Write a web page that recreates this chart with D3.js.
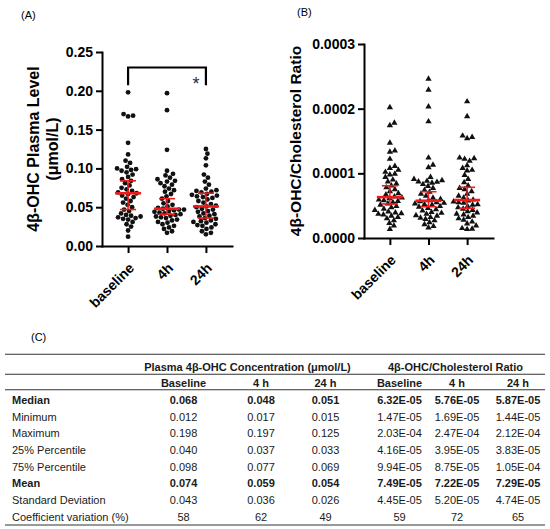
<!DOCTYPE html>
<html>
<head>
<meta charset="utf-8">
<script src="https://cdn.jsdelivr.net/npm/d3@7"></script>
<style>
    body { margin: 0; background: #fff; }
    svg { display: block; font-family: "Liberation Sans", Arial, sans-serif; }
</style>
</head>
<body>
<div id="fig"></div>
<script>

//categories
const groups = ['baseline', '4h', '24h'];

//panel A - plasma level (µmol/L), one array per time point
const plasmaBaseline = [0.012, 0.020, 0.025, 0.028, 0.031, 0.034, 0.035, 0.036, 0.037, 0.038, 0.039, 0.040,
    0.042, 0.045, 0.047, 0.050, 0.053, 0.056, 0.058, 0.061, 0.063, 0.065, 0.067, 0.068,
    0.069, 0.071, 0.073, 0.075, 0.078, 0.081, 0.084, 0.086, 0.089, 0.092, 0.095, 0.097,
    0.098, 0.099, 0.100, 0.102, 0.107, 0.110, 0.118, 0.133, 0.167, 0.168, 0.170, 0.198];
const plasma4h = [0.017, 0.019, 0.022, 0.024, 0.026, 0.028, 0.030, 0.031, 0.033, 0.034, 0.036, 0.037,
    0.038, 0.039, 0.040, 0.041, 0.042, 0.043, 0.044, 0.045, 0.046, 0.047, 0.047, 0.048,
    0.049, 0.051, 0.053, 0.055, 0.058, 0.061, 0.064, 0.067, 0.070, 0.072, 0.074, 0.077,
    0.079, 0.081, 0.083, 0.084, 0.086, 0.088, 0.091, 0.093, 0.097, 0.124, 0.175, 0.197];
const plasma24h = [0.015, 0.017, 0.019, 0.022, 0.024, 0.026, 0.027, 0.028, 0.030, 0.031, 0.032, 0.033,
    0.035, 0.036, 0.038, 0.039, 0.041, 0.042, 0.044, 0.045, 0.047, 0.048, 0.050, 0.051,
    0.052, 0.054, 0.056, 0.058, 0.060, 0.062, 0.063, 0.064, 0.065, 0.066, 0.067, 0.069,
    0.070, 0.071, 0.072, 0.074, 0.079, 0.083, 0.088, 0.092, 0.104, 0.113, 0.119, 0.125];
const plasmaMedian = [0.068, 0.048, 0.051];
const plasmaCILow = [0.047, 0.041, 0.036];
const plasmaCIHigh = [0.084, 0.061, 0.068];
const plasmaTicks = [0, 0.05, 0.10, 0.15, 0.20, 0.25];

//panel B - ratio, values given in units of 1E-05
const RATIO_UNIT = 1e-5;
const ratioBaseline = [1.47, 2.0, 2.4, 2.8, 3.1, 3.3, 3.5, 3.7, 3.8, 3.9, 4.0, 4.16,
    4.4, 4.6, 4.8, 5.0, 5.2, 5.4, 5.6, 5.8, 5.9, 6.0, 6.2, 6.32,
    6.5, 6.8, 7.0, 7.3, 7.6, 7.9, 8.2, 8.5, 8.8, 9.1, 9.5, 9.9,
    10.0, 10.3, 10.6, 10.9, 11.2, 12.3, 13.4, 13.6, 14.8, 17.5, 17.9, 20.3];
const ratio4h = [1.69, 1.9, 2.2, 2.5, 2.8, 3.0, 3.2, 3.3, 3.5, 3.6, 3.8, 3.95,
    4.1, 4.3, 4.5, 4.7, 4.9, 5.0, 5.2, 5.3, 5.4, 5.5, 5.6, 5.76,
    5.9, 6.1, 6.3, 6.6, 6.9, 7.2, 7.5, 7.8, 8.1, 8.4, 8.6, 8.75,
    8.8, 8.9, 9.0, 9.2, 9.5, 11.0, 11.4, 12.5, 18.1, 20.4, 23.0, 24.7];
const ratio24h = [1.44, 1.5, 1.6, 2.0, 2.3, 2.6, 2.9, 3.1, 3.3, 3.5, 3.7, 3.83,
    4.0, 4.2, 4.4, 4.6, 4.8, 5.0, 5.2, 5.3, 5.5, 5.6, 5.7, 5.87,
    6.0, 6.3, 6.6, 6.9, 7.3, 7.6, 7.8, 8.2, 8.7, 9.2, 9.8, 10.5,
    10.6, 10.9, 11.3, 12.0, 12.3, 12.4, 12.5, 15.5, 15.7, 15.9, 18.9, 21.2];
const ratioMedian = [6.32, 5.76, 5.87];
const ratioCILow = [5.26, 4.84, 4.60];
const ratioCIHigh = [8.08, 7.16, 7.84];
const ratioTicks = [0, 0.0001, 0.0002, 0.0003];

//significance bracket (baseline vs 24h)
const sigPair = ['baseline', '24h'];
const sigLabel = '*';

//panel C - table
const tableRows = ['Median', 'Minimum', 'Maximum', '25% Percentile', '75% Percentile', 'Mean', 'Standard Deviation', 'Coefficient variation (%)'];
const boldRows = ['Median', 'Mean'];
const plasmaHeader = 'Plasma 4β-OHC Concentration (μmol/L)';
const ratioHeader = '4β-OHC/Cholesterol Ratio';
const timeHeaders = ['Baseline', '4 h', '24 h'];
const plasmaStats = [
    ['0.068', '0.048', '0.051'],
    ['0.012', '0.017', '0.015'],
    ['0.198', '0.197', '0.125'],
    ['0.040', '0.037', '0.033'],
    ['0.098', '0.077', '0.069'],
    ['0.074', '0.059', '0.054'],
    ['0.043', '0.036', '0.026'],
    ['58', '62', '49']
];
const ratioStats = [
    ['6.32E-05', '5.76E-05', '5.87E-05'],
    ['1.47E-05', '1.69E-05', '1.44E-05'],
    ['2.03E-04', '2.47E-04', '2.12E-04'],
    ['4.16E-05', '3.95E-05', '3.83E-05'],
    ['9.94E-05', '8.75E-05', '1.05E-04'],
    ['7.49E-05', '7.22E-05', '7.29E-05'],
    ['4.45E-05', '5.20E-05', '4.74E-05'],
    ['59', '72', '65']
];


const svg = d3.select('#fig').append('svg')
    .attr('width', 550)
    .attr('height', 529);

svg.append('rect').attr('width', 550).attr('height', 529).attr('fill', '#fff');

//simple beeswarm: push each dot sideways until it doesn't hit the ones placed before
function swarm(values, yScale, cx, diam) {
    let pts = values.map(v => ({ v: v, y: yScale(v) })).sort((a, b) => b.y - a.y);
    let placed = [];
    pts.forEach(p => {
        for (let k = 0; k < 400; k++) {
            let off = (k % 2 ? 1 : -1) * Math.ceil(k / 2) * 0.5;
            let x = cx + off;
            if (placed.every(q => (q.x - x) ** 2 + (q.y - p.y) ** 2 >= diam * diam)) {
                p.x = x;
                break;
            }
        }
        placed.push(p);
    });
    return pts;
}

function drawDotPlot(opts) {
    //dimensions
    let dim = opts.dim;

    let g = svg.append('g');

    //create scales
    let yScale = d3.scaleLinear()
        .domain(opts.yDomain)
        .range([dim.bottom, dim.top]);

    let xScale = d3.scalePoint()
        .domain(groups)
        .range([dim.left, dim.right])
        .padding(0.67);

    //dots
    opts.series.forEach((vals, i) => {
        let pts = swarm(vals.map(opts.acc), yScale, xScale(groups[i]), opts.diam);
        if (opts.shape === 'circle') {
            g.append('g').selectAll('circle')
                .data(pts)
                .join('circle')
                .attr('cx', d => d.x)
                .attr('cy', d => d.y)
                .attr('r', opts.diam / 2)
                .attr('fill', '#111');
        } else {
            g.append('g').selectAll('path')
                .data(pts)
                .join('path')
                .attr('d', d3.symbol(d3.symbolTriangle, 17))
                .attr('transform', d => `translate(${d.x},${d.y + 0.6})`)
                .attr('fill', '#111');
        }
    });

    //median + 95% CI in red
    let red = '#f01a1a';
    groups.forEach((grp, i) => {
        let cx = xScale(grp);
        let eb = g.append('g').attr('stroke', red).attr('fill', 'none');
        eb.append('line')
            .attr('x1', cx).attr('x2', cx)
            .attr('y1', yScale(opts.acc(opts.ciLow[i])))
            .attr('y2', yScale(opts.acc(opts.ciHigh[i])))
            .attr('stroke-width', 1.5);
        [opts.ciLow[i], opts.ciHigh[i]].forEach(c => {
            eb.append('line')
                .attr('x1', cx - 8).attr('x2', cx + 8)
                .attr('y1', yScale(opts.acc(c))).attr('y2', yScale(opts.acc(c)))
                .attr('stroke-width', 1.6);
        });
        eb.append('line')
            .attr('x1', cx - 13).attr('x2', cx + 13)
            .attr('y1', yScale(opts.acc(opts.median[i]))).attr('y2', yScale(opts.acc(opts.median[i])))
            .attr('stroke-width', 2.6);
    });

    //axes
    let yAxisGenerator = d3.axisLeft(yScale)
        .tickValues(opts.ticks)
        .tickFormat(opts.format)
        .tickSize(6)
        .tickSizeOuter(0)
        .tickPadding(3);

    let yAxis = g.append('g')
        .attr('transform', `translate(${dim.left},0)`)
        .call(yAxisGenerator);

    let xAxisGenerator = d3.axisBottom(xScale)
        .tickSize(7)
        .tickSizeOuter(0)
        .tickFormat('');

    let xAxis = g.append('g')
        .attr('transform', `translate(0,${dim.bottom})`)
        .call(xAxisGenerator);

    [yAxis, xAxis].forEach(a => {
        a.select('.domain').attr('stroke', '#000').attr('stroke-width', 2).attr('stroke-linecap', 'square');
        a.selectAll('.tick line').attr('stroke', '#000').attr('stroke-width', 2);
    });
    yAxis.selectAll('text')
        .attr('fill', '#000')
        .style('font-size', '14px')
        .style('font-weight', 'bold')
        .style('font-family', '"Liberation Sans", Arial, sans-serif');

    //rotated category labels
    g.append('g').selectAll('text')
        .data(groups)
        .join('text')
        .attr('transform', d => `translate(${xScale(d) + 7},${dim.bottom + 23}) rotate(-45)`)
        .attr('text-anchor', 'end')
        .style('font-size', '14px')
        .style('font-weight', 'bold')
        .text(d => d);

    //y label
    opts.label.forEach((line, i) => {
        g.append('text')
            .attr('transform', `translate(${opts.labelX[i]},${(dim.top + dim.bottom) / 2}) rotate(-90)`)
            .attr('text-anchor', 'middle')
            .attr('dominant-baseline', 'central')
            .style('font-size', opts.labelSize + 'px')
            .style('font-weight', 'bold')
            .text(line);
    });

    //panel letter
    g.append('text')
        .attr('x', opts.letterPos[0])
        .attr('y', opts.letterPos[1])
        .style('font-size', '11px')
        .text(opts.letter);

    return { g: g, xScale: xScale, yScale: yScale };
}

//A
let panelA = drawDotPlot({
    dim: { left: 102, right: 232, top: 52, bottom: 246 },
    yDomain: [0, 0.25],
    ticks: plasmaTicks,
    format: d3.format('.2f'),
    series: [plasmaBaseline, plasma4h, plasma24h],
    acc: d => d,
    median: plasmaMedian,
    ciLow: plasmaCILow,
    ciHigh: plasmaCIHigh,
    shape: 'circle',
    diam: 4.8,
    label: ['4β-OHC Plasma Level', '(μmol/L)'],
    labelX: [33, 52],
    labelSize: 16,
    letter: '(A)',
    letterPos: [21, 19]
});

//significance bracket
let bx0 = panelA.xScale(sigPair[0]);
let bx1 = panelA.xScale(sigPair[1]);
panelA.g.append('path')
    .attr('d', `M${bx0},${panelA.yScale(0.207)}V${panelA.yScale(0.23)}H${bx1}V${panelA.yScale(0.207)}`)
    .attr('fill', 'none')
    .attr('stroke', '#000')
    .attr('stroke-width', 2.2);
panelA.g.append('text')
    .attr('x', bx1 - 10)
    .attr('y', panelA.yScale(0.207) + 5)
    .attr('text-anchor', 'middle')
    .style('font-size', '18px')
    .attr('fill', '#1e2b48')
    .text(sigLabel);

//B
let panelB = drawDotPlot({
    dim: { left: 364, right: 493, top: 44, bottom: 238 },
    yDomain: [0, 0.0003],
    ticks: ratioTicks,
    format: d3.format('.4f'),
    series: [ratioBaseline, ratio4h, ratio24h],
    acc: d => d * RATIO_UNIT,
    median: ratioMedian,
    ciLow: ratioCILow,
    ciHigh: ratioCIHigh,
    shape: 'triangle',
    diam: 5,
    label: ['4β-OHC/Cholesterol Ratio'],
    labelX: [295],
    labelSize: 15.5,
    letter: '(B)',
    letterPos: [297, 16]
});

//C - table
function drawTable() {
    let t = svg.append('g').style('font-size', '11px').attr('fill', '#1a1a1a');

    t.append('text').attr('x', 31).attr('y', 341).attr('fill', '#000').text('(C)');

    let colX = [183.5, 261, 325.5, 399.5, 457, 518];

    let rowY = d3.scalePoint()
        .domain(tableRows)
        .range([400, 516.7]);

    //rules
    [354.3, 374.3, 389.8, 525].forEach(y => {
        t.append('line')
            .attr('x1', 5).attr('x2', 545)
            .attr('y1', y).attr('y2', y)
            .attr('stroke', '#333')
            .attr('stroke-width', 1.1);
    });

    //headers
    t.append('text').attr('x', 247.5).attr('y', 371).attr('text-anchor', 'middle')
        .style('font-weight', 'bold').text(plasmaHeader);
    t.append('text').attr('x', 455.5).attr('y', 371).attr('text-anchor', 'middle')
        .style('font-weight', 'bold').text(ratioHeader);
    timeHeaders.concat(timeHeaders).forEach((h, i) => {
        t.append('text').attr('x', colX[i]).attr('y', 387.3).attr('text-anchor', 'middle')
            .style('font-weight', 'bold').text(h);
    });

    //body
    tableRows.forEach((r, i) => {
        let y = rowY(r) + 4;
        let w = boldRows.includes(r) ? 'bold' : 'normal';
        t.append('text').attr('x', 12).attr('y', y).style('font-weight', w).text(r);
        plasmaStats[i].concat(ratioStats[i]).forEach((v, j) => {
            t.append('text').attr('x', colX[j]).attr('y', y).attr('text-anchor', 'middle')
                .style('font-weight', w).text(v);
        });
    });
}

drawTable();

</script>
</body>
</html>
